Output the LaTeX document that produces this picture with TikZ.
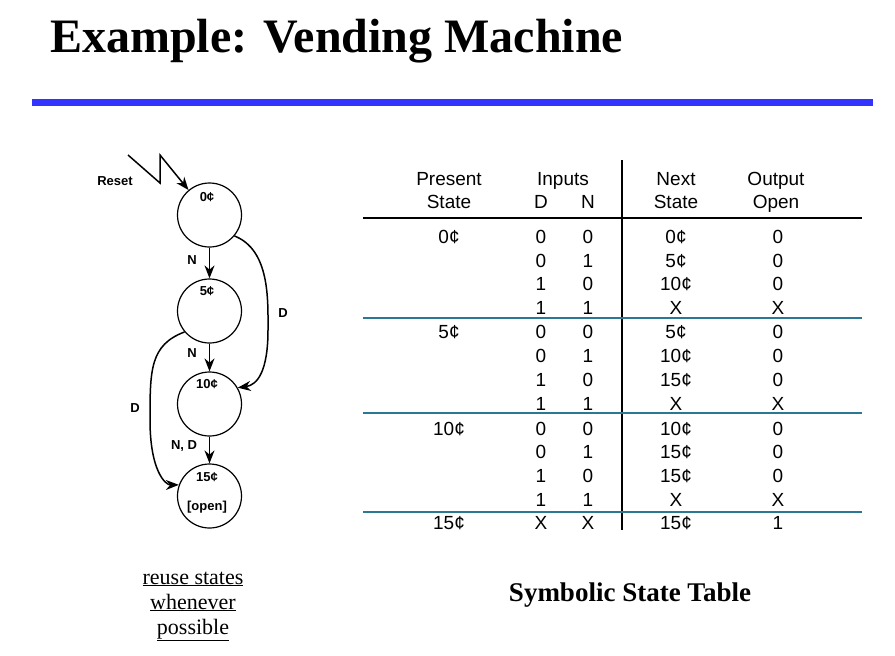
\documentclass[tikz,border=0pt]{standalone}
\usepackage{fontspec}
\setmainfont{Liberation Serif}
\newfontfamily\arialf{Liberation Sans}
\usetikzlibrary{arrows.meta}
\definecolor{teal1}{RGB}{40,120,150}
\definecolor{bar}{RGB}{51,51,255}
\begin{document}
\begin{tikzpicture}[x=1pt,y=-1pt,
  st/.style={circle,draw,line width=1.2pt,minimum size=64pt,inner sep=0pt},
  sl/.style={font=\arialf\bfseries\fontsize{13}{14}\selectfont},
  tr/.style={-{Stealth[length=13pt,width=10pt]},line width=1.5pt},
  tt/.style={font=\arialf\fontsize{19}{21}\selectfont,anchor=base},
  ul/.style={font=\fontsize{22}{24}\selectfont,anchor=base}]
\path[use as bounding box,fill=white] (0,0) rectangle (895,656);
\node[anchor=base west,inner sep=0,font=\bfseries\fontsize{48}{50}\selectfont] (title) at (50,52) {Example: Vending Machine};
\fill[bar] (32,99) rectangle (873,106);
% states
\node[st] (s0) at (209.5,215) {};
\node[st] (s5) at (209.5,311) {};
\node[st] (s10) at (209.5,404) {};
\node[st] (s15) at (209.5,496) {};
\node[sl] (l0) at (207,197) {0¢};
\node[sl] (l5) at (207,291) {5¢};
\node[sl] (l10) at (207,384) {10¢};
\node[sl] (l15) at (207,477) {15¢};
\node[sl] (lo) at (207,507) {[open]};
\node[sl] (rs) at (115,181) {Reset};
\coordinate (z1) at (128,155);
\coordinate (z2) at (160,183);
\coordinate (z3) at (160,155);
\draw[tr] (z1) -- (z2) -- (z3) -- (s0.130);
\draw[tr] (s0) -- (s5);
\draw[tr] (s5) -- (s10);
\draw[tr] (s10) -- (s15);
\draw[tr] (s0.-40) .. controls (270,250) and (268,300) .. (268,330) .. controls (268,370) and (258,385) .. (s10.30);
\draw[tr] (s5.-140) .. controls (150,345) and (150,370) .. (150,420) .. controls (150,470) and (165,485) .. (s15.160);
\node[sl] (n1) at (192,260) {N};
\node[sl] (n2) at (192,353) {N};
\node[sl] (nd) at (184,446) {N, D};
\node[sl] (d1) at (283,313) {D};
\node[sl] (d2) at (135,408) {D};
% captions
\node[ul] (u1) at (193,584) {\underline{reuse states}};
\node[ul] (u2) at (193,609) {\underline{whenever}};
\node[ul] (u3) at (193,634) {\underline{possible}};
\node[font=\bfseries\fontsize{27}{29}\selectfont,anchor=base] (stt) at (630,601) {Symbolic State Table};
% table
\draw[line width=1.5pt] (622,160) -- (622,530);
\draw[line width=1.5pt] (363,218) -- (862,218);
\foreach \yy in {318,413,512} \draw[teal1,line width=1.5pt] (363,\yy) -- (862,\yy);
\node[tt] at (449,185) {Present};
\node[tt] at (449,208) {State};
\node[tt] at (563,185) {Inputs};
\node[tt] at (541,208) {D};
\node[tt] at (588,208) {N};
\node[tt] at (676,185) {Next};
\node[tt] at (676,208) {State};
\node[tt] at (776,185) {Output};
\node[tt] at (776,208) {Open};
\foreach \y/\p/\d/\n/\ns/\o in {
 243/0¢/0/0/0¢/0, 267//0/1/5¢/0, 290//1/0/10¢/0, 314//1/1/X/X,
 338/5¢/0/0/5¢/0, 362//0/1/10¢/0, 386//1/0/15¢/0, 410//1/1/X/X,
 435/10¢/0/0/10¢/0, 458//0/1/15¢/0, 482//1/0/15¢/0, 506//1/1/X/X,
 529/15¢/X/X/15¢/1} {
  \node[tt] at (449,\y) {\p};
  \node[tt] at (541,\y) {\d};
  \node[tt] at (588,\y) {\n};
  \node[tt] at (676,\y) {\ns};
  \node[tt] at (778,\y) {\o};
}
\end{tikzpicture}
\end{document}
